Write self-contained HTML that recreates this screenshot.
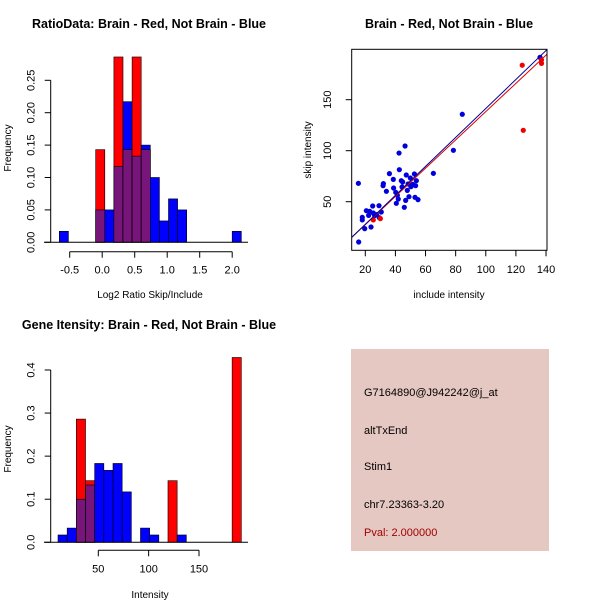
<!DOCTYPE html>
<html><head><meta charset="utf-8"><style>
body{margin:0;background:#fff}
svg{display:block;font-family:"Liberation Sans",sans-serif}
</style></head><body>
<svg id="svg" width="600" height="600" viewBox="0 0 600 600">
<rect x="0" y="0" width="600" height="600" fill="#fff"/>
<rect x="351" y="349" width="198" height="202" fill="#e6c8c2"/>
<g font-size="11" fill="#000">
<text x="364" y="396">G7164890@J942242@j_at</text>
<text x="364" y="434">altTxEnd</text>
<text x="364" y="470">Stim1</text>
<text x="364" y="508">chr7.23363-3.20</text>
<text x="364" y="536" fill="#a00000">Pval: 2.000000</text>
</g>
</svg>
<script>
// ---- Ratio histogram data ----
const ratioBinStart = -0.66, ratioBinWidth = 0.14;
const ratioBlue = [0.017,0,0,0,0.05,0.05,0.117,0.217,0.133,0.15,0.1,0.033,0.067,0.05,0,0,0,0,0,0.017];
const ratioRed  = [0,0,0,0,0.143,0,0.286,0.143,0.286,0.143,0,0,0,0,0,0,0,0,0,0];
const ratioXTicks = [-0.5,0,0.5,1,1.5,2];
const ratioXTickLabels = ["-0.5","0.0","0.5","1.0","1.5","2.0"];
const ratioYTicks = [0,0.05,0.1,0.15,0.2,0.25];
const ratioYTickLabels = ["0.00","0.05","0.10","0.15","0.20","0.25"];
// ---- Intensity histogram data ----
const intBinStart = 10, intBinWidth = 9.1;
const intBlue = [0.017,0.033,0.1,0.133,0.183,0.167,0.183,0.117,0,0.033,0.017,0,0,0.017,0,0,0,0,0,0];
const intRed  = [0,0,0.286,0.143,0,0,0,0,0,0,0,0,0.143,0,0,0,0,0,0,0.429];
const intXTicks = [50,100,150];
const intXTickLabels = ["50","100","150"];
const intYTicks = [0,0.1,0.2,0.3,0.4];
const intYTickLabels = ["0.0","0.1","0.2","0.3","0.4"];
// ---- Scatter data ----
const blueX = [15.4,18.0,18.0,19.6,20.7,22.2,22.9,23.8,24.9,25.3,26.2,27.5,29.1,29.3,30.6,31.8,32.0,34.0,36.0,38.6,38.8,40.2,40.6,41.3,41.9,42.4,42.6,43.9,44.4,44.8,45.9,46.4,46.8,47.2,47.9,48.4,49.0,49.9,50.3,51.5,52.6,53.0,53.4,53.9,55.0,65.2,78.5,84.4,15.6,136.0];
const blueY = [68.0,34.7,32.1,23.6,41.2,36.6,40.6,25.2,45.8,38.9,36.3,37.3,46.1,34.3,39.9,65.7,67.7,60.2,77.5,71.9,63.4,59.2,48.4,56.2,52.6,97.7,81.4,70.6,64.4,69.3,44.5,104.6,51.3,76.2,61.1,67.4,54.9,73.2,64.7,67.0,77.2,54.3,65.7,70.6,52.0,77.8,100.4,135.7,10.5,191.5];
const redX = [25.3,30.0,124.2,124.9,137.0,137.0];
const redY = [32.1,33.4,183.8,120.0,185.6,189.0];
const blueFit = [-0.6,1.42]; // intercept, slope
const redFit = [-0.2,1.385];
const scXTicks = [20,40,60,80,100,120,140];
const scYTicks = [50,100,150];

const svg = document.getElementById('svg');
const NS = 'http://www.w3.org/2000/svg';
function mk(tag, attrs, parent){const e=document.createElementNS(NS,tag);for(const k in attrs)e.setAttribute(k,attrs[k]);(parent||svg).appendChild(e);return e;}

function histogram(g, o){
  const sx=v=>o.x0+(v-o.xv0)*o.xs, sy=v=>o.y0-v*o.ys;
  const n=o.blue.length;
  for(let i=0;i<n;i++){
    const a=sx(o.start+i*o.w), b=sx(o.start+(i+1)*o.w);
    const bv=o.blue[i], rv=o.red[i], m=Math.min(bv,rv);
    if(bv>0){const r=mk('rect',{x:a,y:sy(bv),width:b-a,height:sy(0)-sy(bv),fill:'#0000ff',stroke:'#000','stroke-width':0.6},g);
      
      }
    if(rv>0){const r=mk('rect',{x:a,y:sy(rv),width:b-a,height:sy(0)-sy(rv),fill:'#ff0000',stroke:'#000','stroke-width':0.6},g);
      
      }
    if(m>0){const r=mk('rect',{x:a,y:sy(m),width:b-a,height:sy(0)-sy(m),fill:'#78157a',stroke:'#000','stroke-width':0.6},g);
      
      }
  }
  mk('line',{x1:44,x2:248,y1:sy(0),y2:sy(0),stroke:'#000'},g);
  const xa=mk('g',{},g);
  
  
  mk('line',{x1:sx(o.xt[0]),x2:sx(o.xt[o.xt.length-1]),y1:o.axY,y2:o.axY,stroke:'#000'},xa);
  o.xt.forEach((t,i)=>{mk('line',{x1:sx(t),x2:sx(t),y1:o.axY,y2:o.axY+6,stroke:'#000'},xa);
    const e=mk('text',{x:sx(t),y:o.axY+22,'font-size':11,'text-anchor':'middle'},xa);e.textContent=o.xl[i];});
  const ya=mk('g',{},g);
  
  
  mk('line',{x1:o.axX,x2:o.axX,y1:sy(o.yt[0]),y2:sy(o.yt[o.yt.length-1]),stroke:'#000'},ya);
  o.yt.forEach((t,i)=>{mk('line',{x1:o.axX,x2:o.axX-6,y1:sy(t),y2:sy(t),stroke:'#000'},ya);
    const e=mk('text',{x:0,y:0,'font-size':11,'text-anchor':'middle',transform:`translate(${o.axX-16},${sy(t)}) rotate(-90)`},ya);e.textContent=o.yl[i];});
}

const g1=mk('g',{});


histogram(g1,{x0:69.7,xv0:-0.5,xs:65,y0:242.3,ys:648,start:ratioBinStart,w:ratioBinWidth,blue:ratioBlue,red:ratioRed,xt:ratioXTicks,xl:ratioXTickLabels,yt:ratioYTicks,yl:ratioYTickLabels,axY:251.7,axX:50.7});
const g2=mk('g',{});


histogram(g2,{x0:98.3,xv0:50,xs:1.007,y0:542.3,ys:430.8,start:intBinStart,w:intBinWidth,blue:intBlue,red:intRed,xt:intXTicks,xl:intXTickLabels,yt:intYTicks,yl:intYTickLabels,axY:550.3,axX:50.7});

const g3=mk('g',{});


const px=v=>365.3+(v-20)*1.506, py=v=>201.7-(v-50)*1.02;
mk('defs',{},g3).innerHTML='<clipPath id="sc"><rect x="351.7" y="49.3" width="195.3" height="201"/></clipPath>';
const lg=mk('g',{'clip-path':'url(#sc)'},g3);
blueX.forEach((v,i)=>{const c=mk('circle',{cx:px(v),cy:py(blueY[i]),r:2.6,fill:'#0000dd'},lg);
  
  });
redX.forEach((v,i)=>{const c=mk('circle',{cx:px(v),cy:py(redY[i]),r:2.6,fill:'#ee0000'},lg);
  
  });
const rl=mk('line',{x1:px(0),y1:py(redFit[0]),x2:px(150),y2:py(redFit[0]+150*redFit[1]),stroke:'#dd0000','stroke-width':1},lg);


const bl=mk('line',{x1:px(0),y1:py(blueFit[0]),x2:px(150),y2:py(blueFit[0]+150*blueFit[1]),stroke:'#000099','stroke-width':1},lg);


mk('rect',{x:351.7,y:49.3,width:195.3,height:201,fill:'none',stroke:'#000'},g3);
scXTicks.forEach(t=>{mk('line',{x1:px(t),x2:px(t),y1:250.3,y2:256.3,stroke:'#000'},g3);
  const e=mk('text',{x:px(t),y:273,'font-size':11,'text-anchor':'middle'},g3);e.textContent=String(t);});
scYTicks.forEach(t=>{mk('line',{x1:351.7,x2:345.7,y1:py(t),y2:py(t),stroke:'#000'},g3);
  const e=mk('text',{x:0,y:0,'font-size':11,'text-anchor':'middle',transform:`translate(${331},${py(t)}) rotate(-90)`},g3);e.textContent=String(t);});
</script>
<svg width="600" height="600" style="position:absolute;left:0;top:0" viewBox="0 0 600 600">
<g font-family="Liberation Sans, sans-serif">
<text x="149" y="28" font-size="12.5" font-weight="bold" text-anchor="middle">RatioData: Brain - Red, Not Brain - Blue</text>
<text x="449" y="28" font-size="12.5" font-weight="bold" text-anchor="middle">Brain - Red, Not Brain - Blue</text>
<text x="149" y="329" font-size="12.5" font-weight="bold" text-anchor="middle">Gene Itensity: Brain - Red, Not Brain - Blue</text>
<text x="150" y="298" font-size="10" text-anchor="middle">Log2 Ratio Skip/Include</text>
<text x="150" y="598" font-size="10" text-anchor="middle">Intensity</text>
<text x="449" y="298" font-size="10" text-anchor="middle">include intensity</text>
<text transform="translate(11,148) rotate(-90)" font-size="10" text-anchor="middle">Frequency</text>
<text transform="translate(11,449) rotate(-90)" font-size="10" text-anchor="middle">Frequency</text>
<text transform="translate(311,150) rotate(-90)" font-size="10" text-anchor="middle">skip intensity</text>
</g>
</svg>
</body></html>
